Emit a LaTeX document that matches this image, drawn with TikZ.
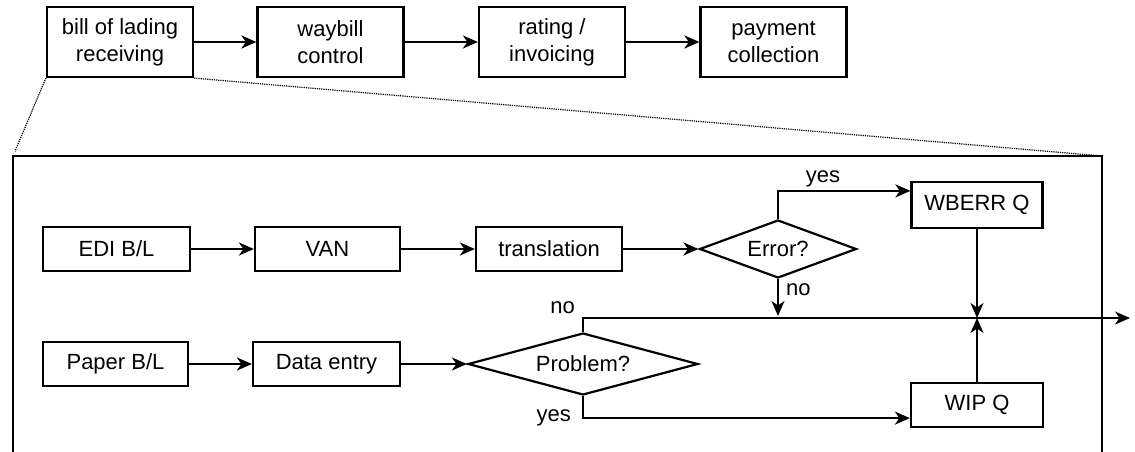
\documentclass[tikz,border=0pt]{standalone}
\usepackage{fontspec}
\setmainfont{Liberation Sans}
\usetikzlibrary{arrows.meta,shapes.geometric,calc}
\begin{document}
\begin{tikzpicture}[x=1pt,y=-1pt,
  font=\fontsize{22}{27}\selectfont,
  every node/.style={inner sep=0pt},
  box/.style={draw,line width=2.2pt,minimum height=44pt,align=center},
  topbox/.style={box,minimum width=146pt,minimum height=70pt},
  decision/.style={draw,diamond,line width=2.2pt},
  arr/.style={line width=2.2pt,-{Stealth[length=15pt,width=13pt,inset=4.5pt]}},
  frameline/.style={line width=2.2pt},
  zoomline/.style={line width=1.2pt,dash pattern=on 1.2pt off 1pt},
  lbl/.style={inner sep=3pt}]
\useasboundingbox (0,0) rectangle (1135,452);

% process chain
\node[topbox] (bol)  at (120,42)   {bill of lading\\receiving};
\node[topbox] (wb)   at (330.5,42) {waybill\\control};
\node[topbox] (rate) at (552,42)   {rating /\\invoicing};
\node[topbox] (pay)  at (773.5,42) {payment\\collection};
\draw[arr] (bol) -- (wb);
\draw[arr] (wb) -- (rate);
\draw[arr] (rate) -- (pay);

% detail frame for the first step
\coordinate (fl) at (13,156);
\coordinate (fr) at (1102,156);
\draw[frameline] (13,470) -- (fl) -- (fr) -- (1102,470);
\draw[zoomline,shorten >=5pt] (bol.south west) -- (fl);
\draw[zoomline] (bol.south east) -- (fr);

% EDI path
\node[box,minimum width=147pt] (edi) at (116.5,249) {EDI B/L};
\node[box,minimum width=145pt] (van) at (327.5,249) {VAN};
\node[box,minimum width=146pt] (tr)  at (549,249)   {translation};
\node[decision,aspect=2.7,minimum width=157pt,minimum height=58pt] (err) at (778,249) {Error?};
\node[box,minimum width=131pt,minimum height=46pt] (wberr) at (977,205) {WBERR Q};

% paper path
\node[box,minimum width=145pt] (paper) at (115.5,364) {Paper B/L};
\node[box,minimum width=147pt] (de)    at (326.5,364) {Data entry};
\node[decision,aspect=3.7,minimum width=230pt,minimum height=62pt] (prob) at (583,364) {Problem?};
\node[box,minimum width=132pt,minimum height=44pt] (wip) at (977,405) {WIP Q};

\coordinate (errno) at (778,316);
\coordinate (join)  at (977,318);
\coordinate (out)   at (1130,318);

\draw[arr] (edi) -- (van);
\draw[arr] (van) -- (tr);
\draw[arr] (tr) -- (err);
\draw[arr] (paper) -- (de);
\draw[arr] (de) -- (prob);

\draw[arr] (err.north) |- ($(wberr.north west)+(0,10)$)
  node[lbl,pos=0.67,above] {yes};
\draw[arr] (err.south) -- (errno)
  node[lbl,pos=0.3,right,xshift=4pt] {no};
\draw[arr] (prob.north) |- (out)
  node[lbl,pos=0.5,above left,xshift=-4pt] {no};
\draw[arr] (prob.south) |- ($(wip.south west)+(0,-10)$)
  node[lbl,pos=0.5,left,xshift=-8pt] {yes};
\draw[arr] (wberr.south) -- (join);
\draw[arr] (wip.north) -- (join);
\end{tikzpicture}
\end{document}
